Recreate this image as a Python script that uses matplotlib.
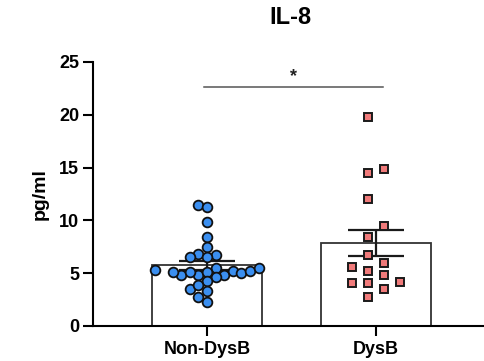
import numpy as np
import matplotlib
matplotlib.use("Agg")
import matplotlib.pyplot as plt

plt.rcParams['font.family'] = ['Liberation Sans', 'DejaVu Sans']

# IL-8 concentrations (pg/ml) per subject
groups = ["Non-DysB", "DysB"]
non_dysb = [11.47, 11.25, 9.83, 8.47, 7.46, 6.82, 6.73, 6.57, 6.51,
            5.47, 4.83, 4.83, 4.61, 5.15, 5.25, 4.83, 5.00, 5.15, 5.15,
            5.25, 5.47, 5.31, 4.29, 3.48, 3.35, 3.89, 2.78, 2.31]
dysb = [19.78, 14.47, 14.88, 12.07, 9.48, 8.47, 6.70, 5.97, 5.56,
        5.25, 4.83, 4.11, 4.11, 4.17, 3.51, 2.72]
y_ticks = [0, 5, 10, 15, 20, 25]
title = "IL-8"
y_label = "pg/ml"
sig_label = "*"

W, H, DPI = 4.84, 3.61, 100
fig = plt.figure(figsize=(W, H), dpi=DPI)
ax_rect = [93 / 484, 1 - 326 / 361, 1 - 93 / 484, (326 - 62) / 361]
ax = fig.add_axes(ax_rect)
xlim = (-0.6746, 1.639)
ylim = (0, 25)
ax.set_xlim(*xlim)
ax.set_ylim(*ylim)

px_per_x = ax_rect[2] * W * DPI / (xlim[1] - xlim[0])
px_per_y = ax_rect[3] * H * DPI / (ylim[1] - ylim[0])


def swarm_offsets(values, step_px, min_dist_px, half=False, ncols=20):
    """Column-based beeswarm: each point goes to the nearest free column."""
    vals = np.asarray(values, dtype=float)
    if half:
        cands = []
        for k in range(ncols):
            cands += [-(k + 0.5), k + 0.5]
    else:
        cands = [0]
        for k in range(1, ncols):
            cands += [-k, k]
    placed = []
    offs = np.zeros(len(vals))
    for i in np.argsort(vals, kind="stable"):
        y = vals[i] * px_per_y
        for c in cands:
            x = c * step_px
            if all(np.hypot(x - px, y - py) >= min_dist_px for px, py in placed):
                break
        placed.append((x, y))
        offs[i] = c * step_px / px_per_x
    return offs


data = [np.array(non_dysb), np.array(dysb)]
xpos = np.arange(len(groups))
means = [d.mean() for d in data]
sems = [d.std(ddof=1) / np.sqrt(len(d)) for d in data]

ax.bar(xpos, means, width=0.65, color="white", edgecolor="#333333",
       linewidth=1.3, zorder=1)
ax.errorbar(xpos, means, yerr=sems, fmt="none", ecolor="#1a1a1a",
            elinewidth=1.6, capsize=20, capthick=1.6, zorder=2)

off0 = swarm_offsets(non_dysb, 8.6, 8.8)
ax.plot(xpos[0] + off0, data[0], linestyle="none", marker="o",
        markersize=7.0, markerfacecolor="#3b8ff0", markeredgecolor="#111111",
        markeredgewidth=1.3, zorder=3)
off1 = swarm_offsets(dysb, 15.7, 11.5, half=True)
ax.plot(xpos[1] + off1, data[1], linestyle="none", marker="s",
        markersize=5.8, markerfacecolor="#f07a7a", markeredgecolor="#1a1a1a",
        markeredgewidth=1.4, zorder=3)

# significance bracket
ax.plot([-0.018, 1.04], [22.65, 22.65], color="#555555", linewidth=1.1,
        clip_on=False)
ax.text(0.511, 22.85, sig_label, ha="center", va="bottom", fontsize=13,
        fontweight="bold", color="#222222")

for s in ("top", "right"):
    ax.spines[s].set_visible(False)
for s in ("left", "bottom"):
    ax.spines[s].set_linewidth(1.5)
    ax.spines[s].set_color("black")

ax.set_yticks(y_ticks)
ax.set_yticklabels([str(t) for t in y_ticks], fontsize=13, fontweight="bold")
ax.set_xticks(xpos)
ax.set_xticklabels(groups, fontsize=13, fontweight="bold")
ax.tick_params(axis="both", length=7, width=1.5, color="black")
ax.tick_params(axis="y", pad=3)
ax.tick_params(axis="x", pad=4)

fig.text(290 / 484, 1 - 17 / 361, title, ha="center", va="center",
         fontsize=17, fontweight="bold")
fig.text(40 / 484, 1 - 194 / 361, y_label, ha="center", va="center",
         rotation=90, fontsize=14, fontweight="bold")

fig.savefig("out.png", dpi=DPI)
